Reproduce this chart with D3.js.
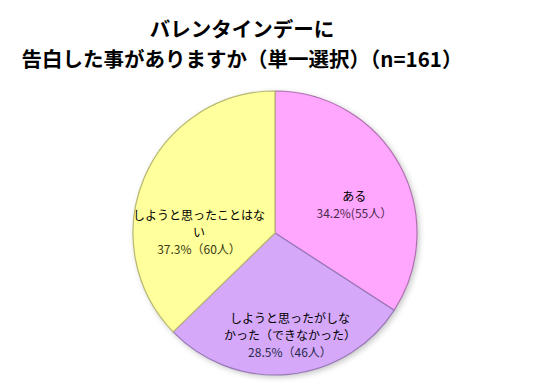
<!DOCTYPE html>
<html>
<head>
<meta charset="utf-8">
<script src="https://cdn.jsdelivr.net/npm/d3@7"></script>
<style>
  body { margin: 0; background: #fff; }
  text { font-family: "Noto Sans CJK JP", "Noto Sans", sans-serif; }
</style>
</head>
<body>
<div id="chart"></div>
<script>
// data
var titleLines = ["バレンタインデーに", "告白した事がありますか（単一選択）（n=161）"];
var categories = [["ある"], ["しようと思ったがしな", "かった（できなかった）"], ["しようと思ったことはな", "い"]];
var counts = [55, 46, 60];
var percents = ["34.2%(55人）", "28.5%（46人）", "37.3%（60人）"];
var colors = ["#ffa6ff", "#d5a8fa", "#ffff9c"];
var edgeColors = ["#b070b0", "#9878b8", "#b8b870"];
var pctColors = ["#4a2a4a", "#2a2a4a", "#3a3a10"];

var W = 552, H = 385;
var cx = 275, cy = 233, r = 142;

var svg = d3.select("#chart").append("svg")
  .attr("width", W).attr("height", H);

var defs = svg.append("defs");
var shadow = defs.append("filter").attr("id", "shadow")
  .attr("x", "-10%").attr("y", "-10%").attr("width", "130%").attr("height", "130%");
shadow.append("feGaussianBlur").attr("in", "SourceAlpha").attr("stdDeviation", 3);
shadow.append("feOffset").attr("dx", 2).attr("dy", 2).attr("result", "b");
shadow.append("feComponentTransfer").append("feFuncA").attr("type", "linear").attr("slope", 0.25);
var merge = shadow.append("feMerge");
merge.append("feMergeNode");
merge.append("feMergeNode").attr("in", "SourceGraphic");

// title
svg.append("g").selectAll("text")
  .data(titleLines)
  .enter().append("text")
  .attr("x", 242)
  .attr("y", function(d, i) { return 37 + i * 30; })
  .attr("text-anchor", "middle")
  .style("font-size", "20.5px")
  .style("font-weight", "bold")
  .text(function(d) { return d; });

var pie = d3.pie().sort(null).value(function(d) { return d; });
var arcs = pie(counts);
var arc = d3.arc().innerRadius(0).outerRadius(r);
var innerArc = d3.arc().innerRadius(0).outerRadius(r - 2);

var g = svg.append("g").attr("transform", "translate(" + cx + "," + cy + ")");

g.append("circle").attr("r", r).attr("fill", "#fff").attr("filter", "url(#shadow)");

var slices = g.selectAll("g.slice")
  .data(arcs)
  .enter().append("g").attr("class", "slice");

slices.append("path")
  .attr("d", arc)
  .attr("fill", function(d, i) { return colors[i]; })
  .attr("stroke", function(d, i) { return edgeColors[i]; })
  .attr("stroke-width", 1.2)
  .attr("stroke-linejoin", "round");

// soft bevel highlight inside each slice
slices.each(function(d, i) {
  var id = "clip" + i;
  defs.append("clipPath").attr("id", id).append("path").attr("d", innerArc(d))
    .attr("transform", "translate(" + cx + "," + cy + ")");
});
slices.append("path")
  .attr("d", innerArc)
  .attr("fill", "none")
  .attr("stroke", "#fff")
  .attr("stroke-opacity", 0.5)
  .attr("stroke-width", 5)
  .attr("clip-path", function(d, i) { return "url(#clip" + i + ")"; });

// label placement: centroid at a per-slice radius, nudged like the original
var labelRadius = [0.62, 0.72, 0.52];
var nudge = [[2, 14], [5, 1], [-8, 29]];
var lineH = 17;

slices.each(function(d, i) {
  var la = d3.arc().innerRadius(r * labelRadius[i]).outerRadius(r * labelRadius[i]);
  var c = la.centroid(d);
  var lines = categories[i].concat([percents[i]]);
  var x = c[0] + nudge[i][0];
  var y0 = c[1] + nudge[i][1] - (lines.length - 1) * lineH / 2;
  d3.select(this).selectAll("text.lbl")
    .data(lines)
    .enter().append("text")
    .attr("class", "lbl")
    .attr("x", x)
    .attr("y", function(s, j) { return y0 + j * lineH; })
    .attr("dy", "0.35em")
    .attr("text-anchor", "middle")
    .style("font-size", "12px")
    .attr("fill", function(s, j) { return j === lines.length - 1 ? pctColors[i] : "#000"; })
    .text(function(s) { return s; });
});
</script>
</body>
</html>
